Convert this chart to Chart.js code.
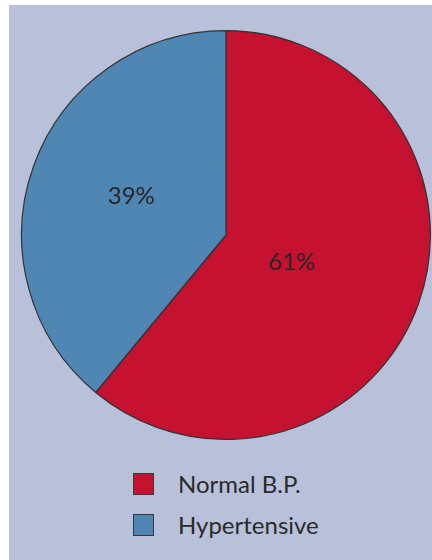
<!DOCTYPE html>
<html>
<head>
<meta charset="utf-8">
<script src="https://cdn.jsdelivr.net/npm/chart.js@4/dist/chart.umd.min.js"></script>
<style>
  html, body { margin: 0; padding: 0; background: #ffffff; width: 432px; height: 560px; overflow: hidden; }
  #panel { position: absolute; left: 9px; top: 5px; width: 423px; height: 555px; background: #b8c0da; }
  #pie { position: absolute; left: 20px; top: 29px; }
  #legend { position: absolute; left: 133px; top: 463px; font-family: Lato, "Open Sans", sans-serif; font-size: 24px; color: #2a2a2a; }
  .item { display: flex; align-items: center; height: 41px; }
  .swatch { width: 21px; height: 22px; border: 1px solid #3a3a3a; box-sizing: border-box; margin-right: 24px; }
</style>
</head>
<body>
<div id="panel"></div>
<canvas id="pie" width="412" height="412"></canvas>
<div id="legend"></div>
<script>
// Blood pressure status of the group, in percent
const categories = ["Normal B.P.", "Hypertensive"];
const shares = [61, 39];
const sliceColors = ["#c41230", "#4f86b4"];
// how far out along each slice its percentage sits (fraction of radius)
const labelDepth = [0.35, 0.5];
// small turn of each label away from the slice's middle angle (radians)
const labelTurn = [0.05, 0.04];

const pctLabels = {
  id: "pctLabels",
  afterDatasetsDraw(chart) {
    const ctx = chart.ctx;
    const arcs = chart.getDatasetMeta(0).data;
    ctx.save();
    ctx.font = "24px Lato, 'Open Sans', sans-serif";
    ctx.fillStyle = "#262626";
    ctx.textAlign = "center";
    ctx.textBaseline = "middle";
    arcs.forEach((arc, i) => {
      const p = arc.getProps(["x", "y", "startAngle", "endAngle", "outerRadius"], true);
      const mid = (p.startAngle + p.endAngle) / 2 + labelTurn[i];
      const r = p.outerRadius * labelDepth[i];
      ctx.fillText(shares[i] + "%", p.x + Math.cos(mid) * r, p.y + Math.sin(mid) * r);
    });
    ctx.restore();
  }
};

new Chart(document.getElementById("pie"), {
  type: "pie",
  data: {
    labels: categories,
    datasets: [{
      data: shares,
      backgroundColor: sliceColors,
      borderColor: "#333333",
      borderWidth: 1.2
    }]
  },
  options: {
    responsive: false,
    animation: false,
    layout: { padding: 1 },
    plugins: { legend: { display: false }, tooltip: { enabled: false } }
  },
  plugins: [pctLabels]
});

// legend, one entry per row
const legend = document.getElementById("legend");
categories.forEach((name, i) => {
  const row = document.createElement("div");
  row.className = "item";
  const sw = document.createElement("span");
  sw.className = "swatch";
  sw.style.background = sliceColors[i];
  const txt = document.createElement("span");
  txt.textContent = name;
  row.appendChild(sw);
  row.appendChild(txt);
  legend.appendChild(row);
});
</script>
</body>
</html>
